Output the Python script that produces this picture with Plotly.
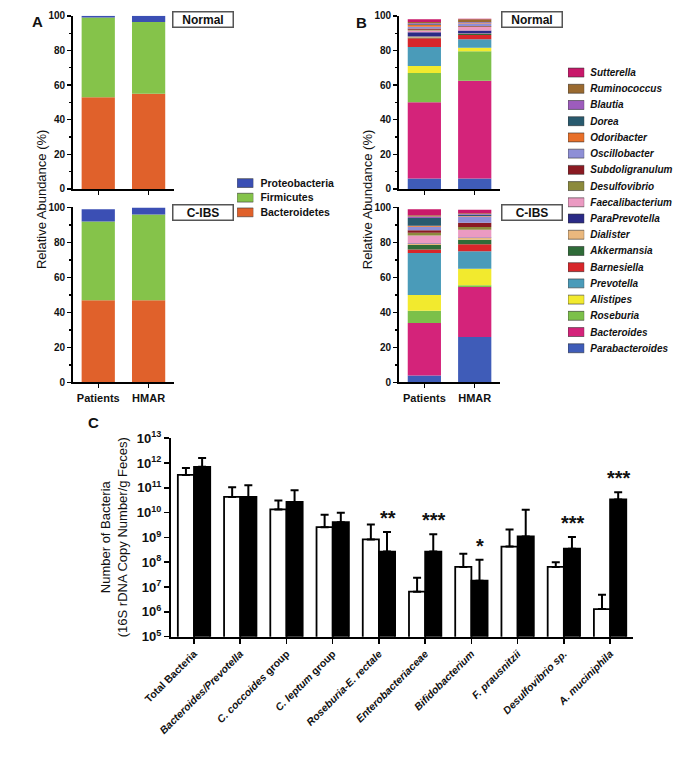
import numpy as np
import plotly.graph_objects as go

W, H = 685, 762
FONT = "Liberation Sans, Arial, sans-serif"

groups = ["Patients", "HMAR"]

# ---------------- Panel A: phylum level (%), listed bottom -> top ----------------
phyla = ["Bacteroidetes", "Firmicutes", "Proteobacteria"]
phyla_colors = ["#e0612b", "#85c34a", "#3b4fb4"]
phylum_normal_patients = [53, 46, 1]
phylum_normal_hmar = [55, 41.5, 3.5]
phylum_cibs_patients = [47, 45, 7]
phylum_cibs_hmar = [47, 49, 4]

# ---------------- Panel B: genus level (%), listed bottom -> top ----------------
genera = ["Parabacteroides", "Bacteroides", "Roseburia", "Alistipes", "Prevotella",
          "Barnesiella", "Akkermansia", "Dialister", "ParaPrevotella", "Faecalibacterium",
          "Desulfovibrio", "Subdoligranulum", "Oscillobacter", "Odoribacter", "Dorea",
          "Blautia", "Ruminococcus", "Sutterella"]
genera_colors = ["#3f5cb8", "#d4237a", "#7cc04a", "#f2ea2e", "#4a9bb9",
                 "#d7262a", "#2f6b38", "#eab87e", "#2a2a86", "#eb9ac2",
                 "#8c8a3c", "#8a1a22", "#8e8fd6", "#e8702a", "#285a6e",
                 "#9d5cbc", "#9a6a30", "#c8186a"]
genus_normal_patients = [6, 44, 17, 4, 11, 5, 0.5, 0.5, 2.5, 1, 0.5, 0.7, 1, 1, 0.5, 0.5, 0.8, 1.5]
genus_normal_hmar = [6, 56.5, 17, 2, 5, 2.5, 0.5, 0.3, 1.7, 2, 0.3, 0.3, 1.5, 0.3, 0.3, 0.3, 1.5, 0.3]
genus_cibs_patients = [4, 30, 7, 9, 24, 2, 2.5, 0.7, 0.3, 4.5, 1.5, 1.5, 2, 0.5, 4.5, 0.8, 0.7, 3.5]
genus_cibs_hmar = [26, 28.5, 1, 9.5, 10, 4, 2.5, 1, 0.3, 4.5, 1.5, 2.5, 3.5, 0.3, 0.8, 0.3, 0.5, 2]

# ---------------- Panel C: qPCR counts ----------------
qpcr_targets = ["Total Bacteria", "Bacteroides/Prevotella", "C. coccoides group",
                "C. leptum group", "Roseburia-E. rectale", "Enterobacteriaceae",
                "Bifidobacterium", "F. prausnitzii", "Desulfovibrio sp.", "A. muciniphila"]
qpcr_tick_text = ["<b>Total Bacteria</b>", "<b><i>Bacteroides/Prevotella</i></b>",
                  "<b><i>C. coccoides</i> group</b>", "<b><i>C. leptum</i> group</b>",
                  "<b><i>Roseburia-E. rectale</i></b>", "<b><i>Enterobacteriaceae</i></b>",
                  "<b><i>Bifidobacterium</i></b>", "<b><i>F. prausnitzii</i></b>",
                  "<b><i>Desulfovibrio sp.</i></b>", "<b><i>A. muciniphila</i></b>"]
qpcr_patients = [3.3e11, 4.3e10, 1.35e10, 2.6e9, 8.3e8, 6.5e6, 6.5e7, 4.3e8, 6.5e7, 1.3e6]
qpcr_patients_err = [3.0e11, 6.2e10, 1.75e10, 5.7e9, 2.47e9, 1.75e7, 1.55e8, 1.67e9, 3.5e7, 3.6e6]
qpcr_hmar = [7e11, 4.3e10, 2.7e10, 4.1e9, 2.7e8, 2.7e8, 1.8e7, 1.1e9, 3.5e8, 3.4e10]
qpcr_hmar_err = [9e11, 8.3e10, 5.2e10, 5.9e9, 1.38e9, 1.08e9, 1.07e8, 1.19e10, 7e8, 3.3e10]
significance = ["", "", "", "", "**", "***", "*", "", "***", "***"]
log_ticks = [5, 6, 7, 8, 9, 10, 11, 12, 13]


def px(x):
    return x / W


def py(y):
    return 1 - y / H


fig = go.Figure()


def stacked(values_patients, values_hmar, names, colors, xa, ya):
    vals = np.array([values_patients, values_hmar], dtype=float).T  # rows: layers
    bases = np.vstack([np.zeros(2), np.cumsum(vals, axis=0)[:-1]])
    for i, name in enumerate(names):
        fig.add_trace(go.Bar(
            x=groups, y=vals[i], base=bases[i], name=name,
            marker=dict(color=colors[i], line=dict(width=0)),
            width=0.66, offset=-0.33, showlegend=False,
            xaxis=xa, yaxis=ya))


stacked(phylum_normal_patients, phylum_normal_hmar, phyla, phyla_colors, "x", "y")
stacked(phylum_cibs_patients, phylum_cibs_hmar, phyla, phyla_colors, "x2", "y2")
stacked(genus_normal_patients, genus_normal_hmar, genera, genera_colors, "x3", "y3")
stacked(genus_cibs_patients, genus_cibs_hmar, genera, genera_colors, "x4", "y4")

# Panel C bars
fig.add_trace(go.Bar(
    x=qpcr_targets, y=qpcr_patients, name="Patients",
    marker=dict(color="white", line=dict(color="black", width=1.8)),
    width=0.35, offset=-0.35, showlegend=False,
    error_y=dict(type="data", symmetric=False, array=qpcr_patients_err,
                 arrayminus=[0] * len(qpcr_patients), color="black", thickness=2, width=4),
    xaxis="x5", yaxis="y5"))
fig.add_trace(go.Bar(
    x=qpcr_targets, y=qpcr_hmar, name="HMAR",
    marker=dict(color="black", line=dict(color="black", width=1.8)),
    width=0.35, offset=0.0, showlegend=False,
    error_y=dict(type="data", symmetric=False, array=qpcr_hmar_err,
                 arrayminus=[0] * len(qpcr_hmar), color="black", thickness=2, width=4),
    xaxis="x5", yaxis="y5"))

# Legend-like swatch axes
fig.add_trace(go.Bar(
    y=phyla, x=[1] * len(phyla), orientation="h", width=0.6,
    marker=dict(color=phyla_colors, line=dict(color="#333", width=0.6)),
    showlegend=False, xaxis="x6", yaxis="y6"))
fig.add_trace(go.Bar(
    y=genera, x=[1] * len(genera), orientation="h", width=0.55,
    marker=dict(color=genera_colors, line=dict(color="#333", width=0.6)),
    showlegend=False, xaxis="x7", yaxis="y7"))

tickfont_b = dict(family=FONT, size=10, color="#111")

common_y = dict(range=[0, 100], tickvals=[0, 20, 40, 60, 80, 100],
                ticktext=["<b>%d</b>" % v for v in [0, 20, 40, 60, 80, 100]],
                showline=True, linecolor="black", linewidth=2, ticks="outside",
                ticklen=4, tickwidth=1.5, tickcolor="black", tickfont=tickfont_b,
                showgrid=False, zeroline=False,
                minor=dict(ticks="outside", dtick=10, ticklen=2.5, tickwidth=1.2,
                           tickcolor="black", showgrid=False))
common_x = dict(type="category", categoryorder="array", categoryarray=groups,
                range=[-0.5, 1.5], showline=True, linecolor="black", linewidth=2,
                ticks="outside", ticklen=4, tickwidth=1.5, tickcolor="black",
                showgrid=False, zeroline=False,
                tickvals=groups, ticktext=["<b>Patients</b>", "<b>HMAR</b>"],
                tickfont=dict(family=FONT, size=11, color="#111"))

A_x = [px(47), px(152)]
B_x = [px(387), px(492)]
top_y = [py(184), py(7)]
bot_y = [py(382), py(203)]

layout = dict(
    width=W, height=H, margin=dict(l=0, r=0, t=0, b=0),
    paper_bgcolor="white", plot_bgcolor="rgba(0,0,0,0)",
    barmode="overlay", showlegend=False,
    font=dict(family=FONT, color="#111"),
    xaxis=dict(common_x, domain=A_x, anchor="y", showticklabels=False),
    yaxis=dict(common_y, domain=top_y, anchor="x"),
    xaxis2=dict(common_x, domain=A_x, anchor="y2"),
    yaxis2=dict(common_y, domain=bot_y, anchor="x2"),
    xaxis3=dict(common_x, domain=B_x, anchor="y3", showticklabels=False),
    yaxis3=dict(common_y, domain=top_y, anchor="x3"),
    xaxis4=dict(common_x, domain=B_x, anchor="y4"),
    yaxis4=dict(common_y, domain=bot_y, anchor="x4"),
    xaxis5=dict(type="category", categoryorder="array", categoryarray=qpcr_targets,
                domain=[px(149), px(631)], anchor="y5", range=[-0.5, 9.5],
                showline=True, linecolor="black", linewidth=2, ticks="outside",
                ticklen=5, tickwidth=1.5, tickcolor="black", showgrid=False,
                tickvals=qpcr_targets, ticktext=qpcr_tick_text, tickangle=-45,
                tickfont=dict(family=FONT, size=10.5, color="#111")),
    yaxis5=dict(type="log", domain=[py(642), py(439)], anchor="x5", range=[5, 13],
                tickvals=[10 ** t for t in log_ticks],
                ticktext=["<b>10<sup>%d</sup></b>" % t for t in log_ticks],
                showline=True, linecolor="black", linewidth=2, ticks="outside",
                ticklen=5, tickwidth=1.5, tickcolor="black", showgrid=False,
                zeroline=False, tickfont=dict(family=FONT, size=13, color="#111")),
    xaxis6=dict(domain=[px(218), px(235)], anchor="y6", range=[0, 1], visible=False),
    yaxis6=dict(domain=[py(215.5), py(170.5)], anchor="x6", type="category",
                categoryorder="array", categoryarray=phyla, range=[-0.5, 2.5],
                side="right", showline=False, ticks="", showgrid=False,
                ticklabelstandoff=6, tickvals=phyla,
                ticktext=["<b>%s</b>" % p for p in phyla],
                tickfont=dict(family=FONT, size=10.5, color="#111")),
    xaxis7=dict(domain=[px(563), px(580)], anchor="y7", range=[0, 1], visible=False),
    yaxis7=dict(domain=[py(355.3), py(56.7)], anchor="x7", type="category",
                categoryorder="array", categoryarray=genera, range=[-0.5, 17.5],
                side="right", showline=False, ticks="", showgrid=False,
                ticklabelstandoff=5, tickvals=genera,
                ticktext=["<b><i>%s</i></b>" % g for g in genera],
                tickfont=dict(family=FONT, size=10, color="#111")),
)
fig.update_layout(**layout)

ann = []
for lab, x, y in [("A", 2, 2), ("B", 340, 3), ("C", 60, 412)]:
    ann.append(dict(text="<b>%s</b>" % lab, x=px(x), y=py(y), xref="paper", yref="paper",
                    xanchor="left", yanchor="top", showarrow=False,
                    font=dict(family=FONT, size=15, color="#111")))
for lab, x, y in [("Normal", 150, 2), ("C-IBS", 150, 199), ("Normal", 493, 2), ("C-IBS", 493, 199)]:
    ann.append(dict(text="<b>%s</b>" % lab, x=px(x), y=py(y), xref="paper", yref="paper",
                    xanchor="left", yanchor="top", showarrow=False,
                    bordercolor="#555", borderwidth=1.5, borderpad=1, bgcolor="white",
                    width=57, height=12,
                    font=dict(family=FONT, size=12, color="#111")))
for x in [14, 354]:
    ann.append(dict(text="Relative Abundance (%)", x=px(x), y=py(195), xref="paper",
                    yref="paper", xanchor="center", yanchor="middle", textangle=-90,
                    showarrow=False, font=dict(family=FONT, size=13, color="#111")))
ann.append(dict(text="Number of Bacteria<br>(16S rDNA Copy Number/g Feces)",
                x=px(90), y=py(540), xref="paper", yref="paper", xanchor="center",
                yanchor="middle", textangle=-90, showarrow=False,
                font=dict(family=FONT, size=13, color="#111")))
for cat, v, e, s in zip(qpcr_targets, qpcr_hmar, qpcr_hmar_err, significance):
    if s:
        ann.append(dict(text="<b>%s</b>" % s, x=cat, y=np.log10(v + e), xref="x5", yref="y5",
                        xshift=9, yshift=14, xanchor="center", yanchor="middle",
                        showarrow=False, font=dict(family=FONT, size=20, color="#111")))
fig.update_layout(annotations=ann)

fig.write_html("out.html", config={"displayModeBar": False, "staticPlot": True},
               post_script="document.body.style.margin='0';document.body.style.overflow='hidden';")
